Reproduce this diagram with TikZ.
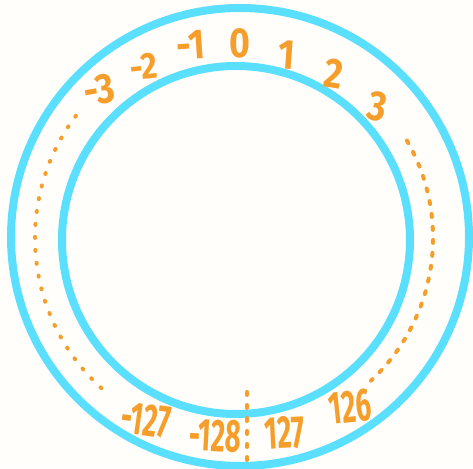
\documentclass[tikz,border=0pt]{standalone}
\usepackage{fontspec}
\newfontfamily\handfont[FakeStretch=0.85]{Fira Sans}
\newfontfamily\handnarrow[FakeStretch=0.6]{Fira Sans}
\usetikzlibrary{positioning}
\definecolor{ringblue}{HTML}{5ADFFF}
\definecolor{numorange}{HTML}{F59E2C}
\definecolor{paper}{HTML}{FFFEFA}

\begin{document}
\begin{tikzpicture}[
    x=1pt, y=1pt,
    ring/.style={draw=ringblue, line width=8pt},
    numlabel/.style={text=numorange, inner sep=0pt,
                     font=\handfont\bfseries\fontsize{42}{42}\selectfont},
    numsmall/.style={text=numorange, inner sep=0pt,
                     font=\handfont\bfseries\fontsize{37}{37}\selectfont},
    numlow/.style={text=numorange, inner sep=0pt,
                   font=\handnarrow\bfseries\fontsize{46}{46}\selectfont},
    dotline/.style={draw=numorange, line width=4pt, line cap=round,
                    dash pattern=on 1pt off 12pt},
    dashline/.style={draw=numorange, line width=4pt, line cap=round,
                     dash pattern=on 3pt off 10pt},
]

% Canvas
\fill[paper] (0,0) rectangle (473,468);
\useasboundingbox (0,0) rectangle (473,468);

% Rings
\coordinate (outerc) at (240,231);
\coordinate (innerc) at (236,228);
\coordinate (c) at (238,230);
\draw[ring] (outerc) circle[radius=229];
\draw[ring] (innerc) circle[radius=174];

% Numbers on top
\node[numlabel, rotate=10] (m3) at (99,378) {-3};
\node[numsmall, rotate=6] (m2) at (144,401) {-2};
\node[numlabel, rotate=4] (m1) at (191,423) {-1};
\node[numlabel] (zero) at (240,425) {0};
\node[numlabel, rotate=-4] (p1) at (287,413) {1};
\node[numlabel, rotate=-9] (p2) at (334,394) {2};
\node[numlabel, rotate=-12] (p3) at (378,361) {3};

% Numbers at the bottom
\node[numlow, rotate=-8] (m127) at (146,48) {-127};
\node[numlow, rotate=-3] (m128) at (215,32) {-128};
\node[numlow, rotate=3] (p127) at (285,35) {127};
\node[numlow, rotate=6] (p126) at (350,61) {126};

% Dotted runs
\draw[dotline] ([shift={(143:203)}]c) arc[start angle=143, end angle=229, radius=203];
\draw[dashline] ([shift={(30:195)}]c) arc[start angle=30, end angle=-47, radius=195];

% Wrap point
\coordinate (wraptop) at (247,76);
\coordinate (wrapbot) at (247,2);
\draw[dashline] (wraptop) -- (wrapbot);

\end{tikzpicture}
\end{document}
